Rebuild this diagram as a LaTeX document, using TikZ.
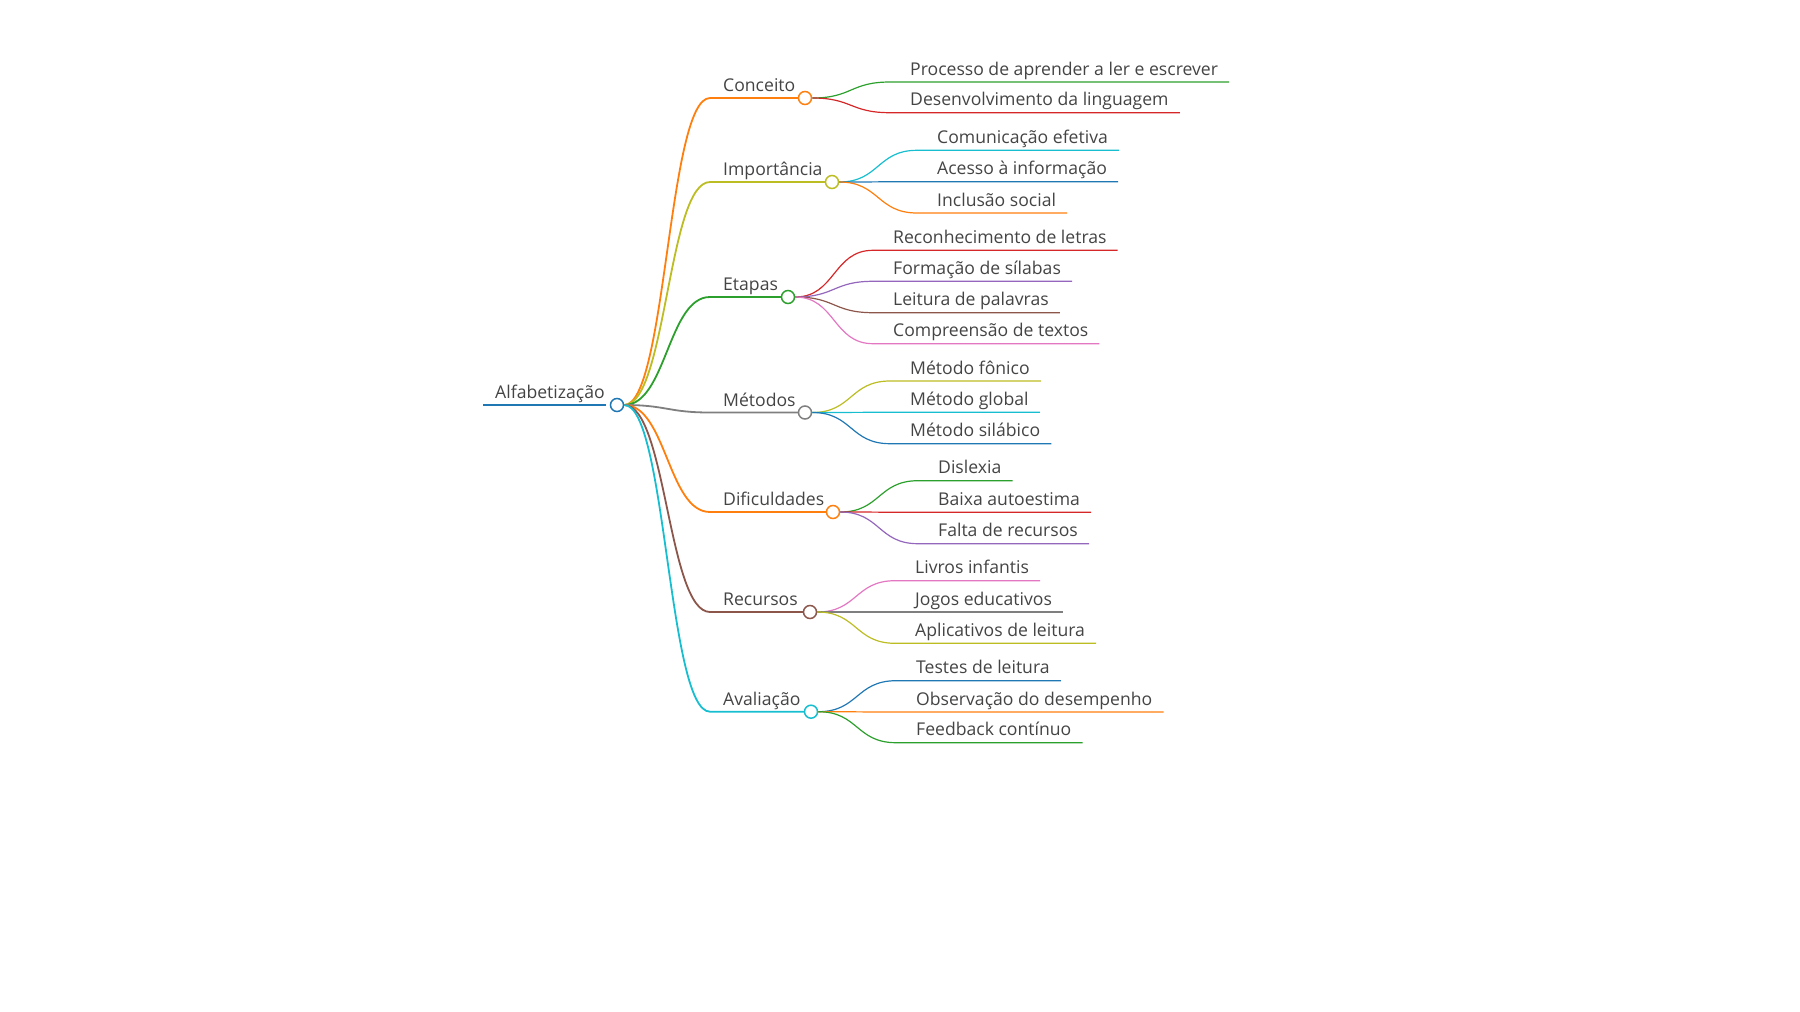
\documentclass[tikz,border=0pt]{standalone}
\usepackage{fontspec}
\setmainfont{Open Sans}
\definecolor{cblue}{HTML}{1F77B4}
\definecolor{corange}{HTML}{FF7F0E}
\definecolor{cgreen}{HTML}{2CA02C}
\definecolor{cred}{HTML}{D62728}
\definecolor{cpurple}{HTML}{9467BD}
\definecolor{cbrown}{HTML}{8C564B}
\definecolor{cpink}{HTML}{E377C2}
\definecolor{cgray}{HTML}{7F7F7F}
\definecolor{colive}{HTML}{BCBD22}
\definecolor{ccyan}{HTML}{17BECF}
\definecolor{txt}{HTML}{444444}
\tikzset{
  dot/.style={circle, draw=#1, fill=white, line width=1.5pt, minimum size=13pt, inner sep=0pt},
  lbl/.style={anchor=base west, inner sep=0pt, text=txt, font=\fontsize{17.6}{20}\selectfont},
  main/.style={draw=#1, line width=1.8pt},
  sub/.style={draw=#1, line width=1.2pt},
}
\begin{document}
\begin{tikzpicture}[x=1pt, y=-1pt]
\useasboundingbox (0,0) rectangle (1800,1012);
% root
\coordinate (rootstart) at (483,405);
\node[lbl] (alfa) at (495,398) {Alfabetização};
\draw[cblue, line width=2.8pt] (rootstart) -- (606,405);
% main branches
\coordinate (conceito-l) at (710,98);
\coordinate (importancia-l) at (710,182);
\coordinate (etapas-l) at (710,297);
\coordinate (metodos-l) at (710,412.5);
\coordinate (dificuldades-l) at (710,512);
\coordinate (recursos-l) at (710,612);
\coordinate (avaliacao-l) at (710,711.7);
\node[lbl] (conceito-t) at (723,91.5) {Conceito};
\node[lbl] (importancia-t) at (723,175.5) {Importância};
\node[lbl] (etapas-t) at (723,290.5) {Etapas};
\node[lbl] (metodos-t) at (723,406) {Métodos};
\node[lbl] (dificuldades-t) at (723,505.5) {Dificuldades};
\node[lbl] (recursos-t) at (723,605.5) {Recursos};
\node[lbl] (avaliacao-t) at (723,705.2) {Avaliação};
\node[dot=corange] (conceito) at (805,98) {};
\node[dot=colive] (importancia) at (832,182) {};
\node[dot=cgreen] (etapas) at (788,297) {};
\node[dot=cgray] (metodos) at (805,412.5) {};
\node[dot=corange] (dificuldades) at (833,512) {};
\node[dot=cbrown] (recursos) at (810,612) {};
\node[dot=ccyan] (avaliacao) at (811,711.7) {};
\node[dot=cblue] (root) at (617,405) {};
\draw[main=corange] (root.east) .. controls +(42,0) and +(-42,0) .. (conceito-l) -- (conceito.west);
\draw[main=colive] (root.east) .. controls +(42,0) and +(-42,0) .. (importancia-l) -- (importancia.west);
\draw[main=cgreen] (root.east) .. controls +(42,0) and +(-42,0) .. (etapas-l) -- (etapas.west);
\draw[main=cgray] (root.east) .. controls +(42,0) and +(-42,0) .. (metodos-l) -- (metodos.west);
\draw[main=corange] (root.east) .. controls +(42,0) and +(-42,0) .. (dificuldades-l) -- (dificuldades.west);
\draw[main=cbrown] (root.east) .. controls +(42,0) and +(-42,0) .. (recursos-l) -- (recursos.west);
\draw[main=ccyan] (root.east) .. controls +(42,0) and +(-42,0) .. (avaliacao-l) -- (avaliacao.west);
% Conceito
\node[lbl] (processo) at (910,75) {Processo de aprender a ler e escrever};
\node[lbl] (desenvolvimento) at (910,105.7) {Desenvolvimento da linguagem};
\coordinate (processo-l) at (890,82);
\coordinate (desenvolvimento-l) at (890,112.7);
\draw[sub=cgreen] (conceito.east) .. controls +(40,0) and +(-40,0) .. (processo-l) -- ([xshift=11pt]processo-l -| processo.east);
\draw[sub=cred] (conceito.east) .. controls +(40,0) and +(-40,0) .. (desenvolvimento-l) -- ([xshift=11pt]desenvolvimento-l -| desenvolvimento.east);
% Importancia
\node[lbl] (comunicacao) at (937,143.3) {Comunicação efetiva};
\node[lbl] (acesso) at (937,174.7) {Acesso à informação};
\node[lbl] (inclusao) at (937,206) {Inclusão social};
\coordinate (comunicacao-l) at (917,150.3);
\coordinate (acesso-l) at (917,181.7);
\coordinate (inclusao-l) at (917,213);
\draw[sub=ccyan] (importancia.east) .. controls +(40,0) and +(-40,0) .. (comunicacao-l) -- ([xshift=11pt]comunicacao-l -| comunicacao.east);
\draw[sub=cblue] (importancia.east) .. controls +(40,0) and +(-40,0) .. (acesso-l) -- ([xshift=11pt]acesso-l -| acesso.east);
\draw[sub=corange] (importancia.east) .. controls +(40,0) and +(-40,0) .. (inclusao-l) -- ([xshift=11pt]inclusao-l -| inclusao.east);
% Etapas
\node[lbl] (reconhecimento) at (893,243.3) {Reconhecimento de letras};
\node[lbl] (formacao) at (893,274.3) {Formação de sílabas};
\node[lbl] (leitura) at (893,305.7) {Leitura de palavras};
\node[lbl] (compreensao) at (893,336.7) {Compreensão de textos};
\coordinate (reconhecimento-l) at (873,250.3);
\coordinate (formacao-l) at (873,281.3);
\coordinate (leitura-l) at (873,312.7);
\coordinate (compreensao-l) at (873,343.7);
\draw[sub=cred] (etapas.east) .. controls +(40,0) and +(-40,0) .. (reconhecimento-l) -- ([xshift=11pt]reconhecimento-l -| reconhecimento.east);
\draw[sub=cpurple] (etapas.east) .. controls +(40,0) and +(-40,0) .. (formacao-l) -- ([xshift=11pt]formacao-l -| formacao.east);
\draw[sub=cbrown] (etapas.east) .. controls +(40,0) and +(-40,0) .. (leitura-l) -- ([xshift=11pt]leitura-l -| leitura.east);
\draw[sub=cpink] (etapas.east) .. controls +(40,0) and +(-40,0) .. (compreensao-l) -- ([xshift=11pt]compreensao-l -| compreensao.east);
% Metodos
\node[lbl] (fonico) at (910,374) {Método fônico};
\node[lbl] (global) at (910,405.3) {Método global};
\node[lbl] (silabico) at (910,436.7) {Método silábico};
\coordinate (fonico-l) at (890,381);
\coordinate (global-l) at (890,412.3);
\coordinate (silabico-l) at (890,443.7);
\draw[sub=colive] (metodos.east) .. controls +(40,0) and +(-40,0) .. (fonico-l) -- ([xshift=11pt]fonico-l -| fonico.east);
\draw[sub=ccyan] (metodos.east) .. controls +(40,0) and +(-40,0) .. (global-l) -- ([xshift=11pt]global-l -| global.east);
\draw[sub=cblue] (metodos.east) .. controls +(40,0) and +(-40,0) .. (silabico-l) -- ([xshift=11pt]silabico-l -| silabico.east);
% Dificuldades
\node[lbl] (dislexia) at (938,473.7) {Dislexia};
\node[lbl] (autoestima) at (938,505.3) {Baixa autoestima};
\node[lbl] (falta) at (938,536.7) {Falta de recursos};
\coordinate (dislexia-l) at (918,480.7);
\coordinate (autoestima-l) at (918,512.3);
\coordinate (falta-l) at (918,543.7);
\draw[sub=cgreen] (dificuldades.east) .. controls +(40,0) and +(-40,0) .. (dislexia-l) -- ([xshift=11pt]dislexia-l -| dislexia.east);
\draw[sub=cred] (dificuldades.east) .. controls +(40,0) and +(-40,0) .. (autoestima-l) -- ([xshift=11pt]autoestima-l -| autoestima.east);
\draw[sub=cpurple] (dificuldades.east) .. controls +(40,0) and +(-40,0) .. (falta-l) -- ([xshift=11pt]falta-l -| falta.east);
% Recursos
\node[lbl] (livros) at (915,573.7) {Livros infantis};
\node[lbl] (jogos) at (915,605) {Jogos educativos};
\node[lbl] (aplicativos) at (915,636.3) {Aplicativos de leitura};
\coordinate (livros-l) at (895,580.7);
\coordinate (jogos-l) at (895,612);
\coordinate (aplicativos-l) at (895,643.3);
\draw[sub=cpink] (recursos.east) .. controls +(40,0) and +(-40,0) .. (livros-l) -- ([xshift=11pt]livros-l -| livros.east);
\draw[sub=cgray] (recursos.east) .. controls +(40,0) and +(-40,0) .. (jogos-l) -- ([xshift=11pt]jogos-l -| jogos.east);
\draw[sub=colive] (recursos.east) .. controls +(40,0) and +(-40,0) .. (aplicativos-l) -- ([xshift=11pt]aplicativos-l -| aplicativos.east);
% Avaliacao
\node[lbl] (testes) at (916,673.7) {Testes de leitura};
\node[lbl] (observacao) at (916,705) {Observação do desempenho};
\node[lbl] (feedback) at (916,735.7) {Feedback contínuo};
\coordinate (testes-l) at (896,680.7);
\coordinate (observacao-l) at (896,712);
\coordinate (feedback-l) at (896,742.7);
\draw[sub=cblue] (avaliacao.east) .. controls +(40,0) and +(-40,0) .. (testes-l) -- ([xshift=11pt]testes-l -| testes.east);
\draw[sub=corange] (avaliacao.east) .. controls +(40,0) and +(-40,0) .. (observacao-l) -- ([xshift=11pt]observacao-l -| observacao.east);
\draw[sub=cgreen] (avaliacao.east) .. controls +(40,0) and +(-40,0) .. (feedback-l) -- ([xshift=11pt]feedback-l -| feedback.east);
\end{tikzpicture}
\end{document}
